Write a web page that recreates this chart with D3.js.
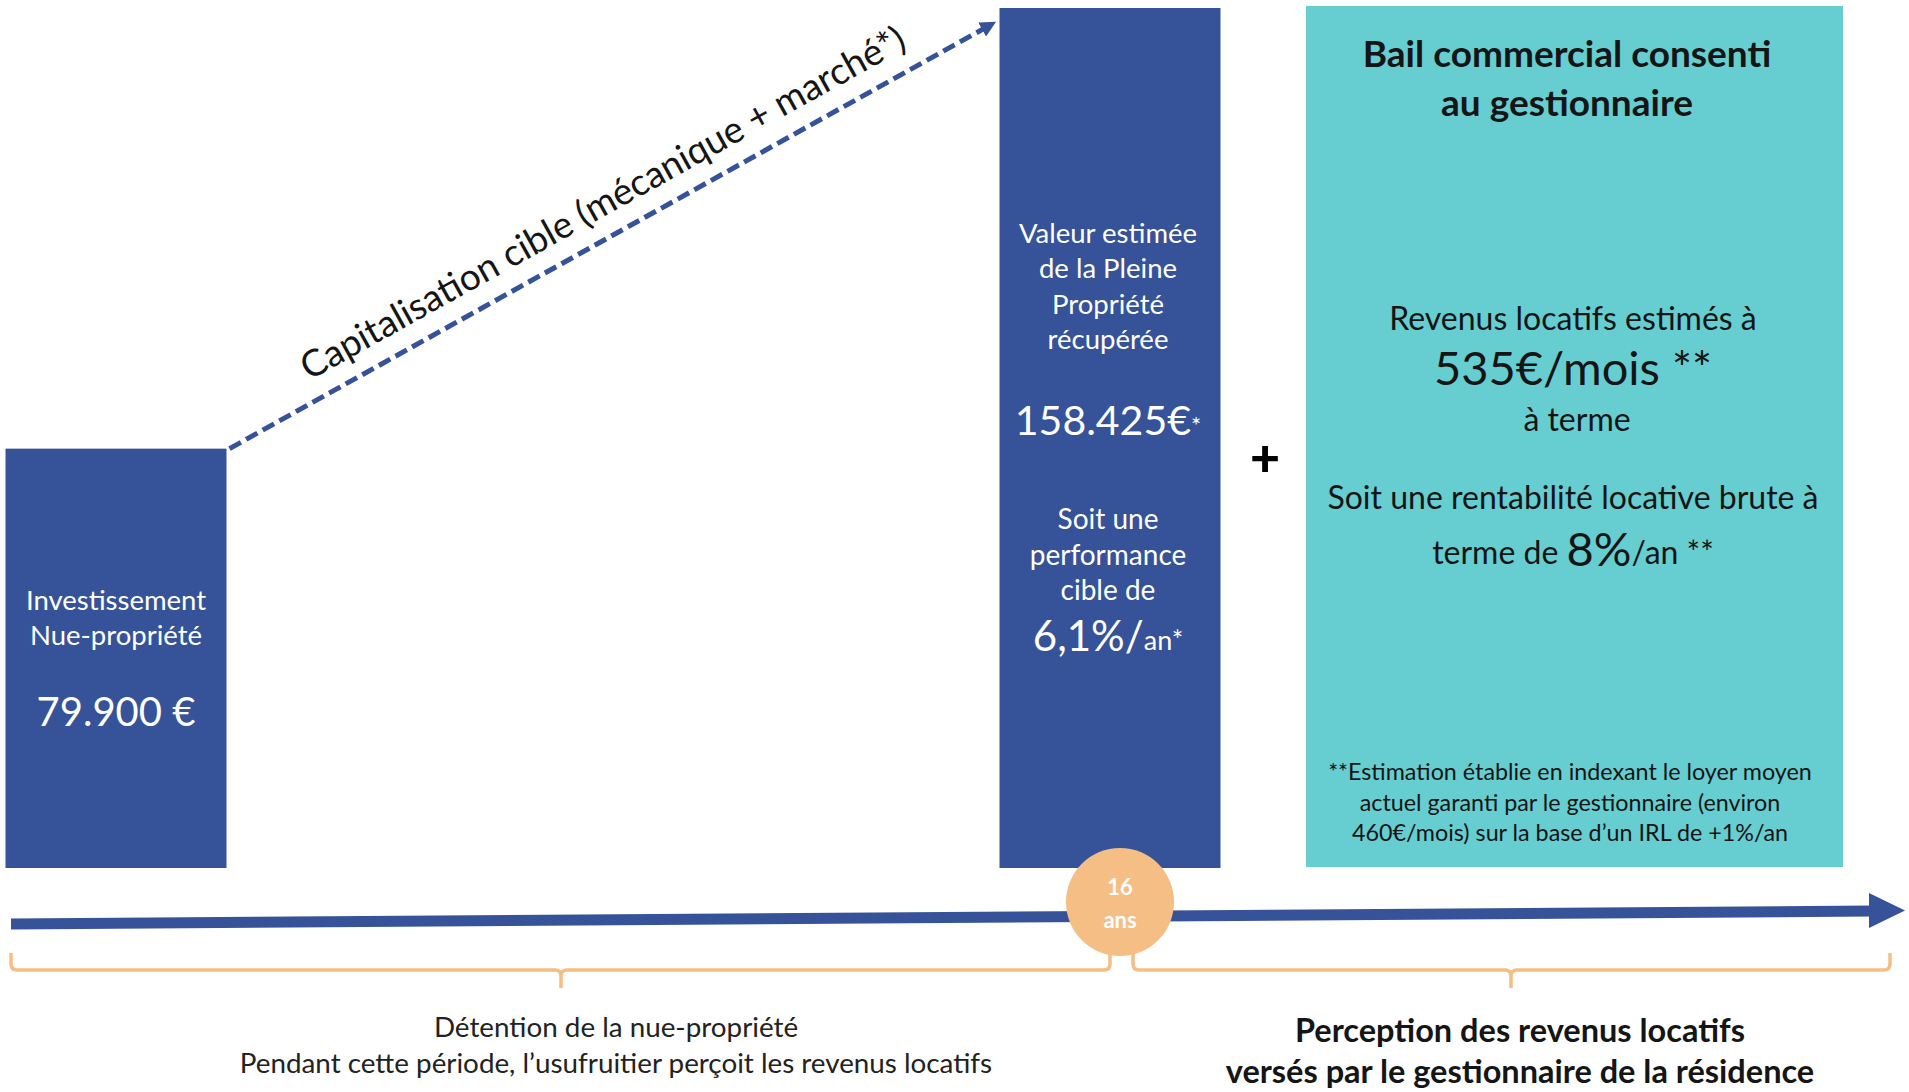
<!DOCTYPE html>
<html>
<head>
<meta charset="utf-8">
<script src="https://cdn.jsdelivr.net/npm/d3@7"></script>
<style>
  html, body { margin: 0; padding: 0; background: #ffffff; }
  svg { display: block; }
  text { font-family: Lato, "Open Sans", sans-serif; }
</style>
</head>
<body>
<svg id="chart" width="1909" height="1092"></svg>
<script>
// ---------- data ----------
const years = [0, 16];
const barValues = [79900, 158425];
const barLabelsLeft = ["Investissement", "Nue-propriété"];
const barValueLeft = "79.900 €";
const barLabelsMid = ["Valeur estimée", "de la Pleine", "Propriété", "récupérée"];
const barValueMid = "158.425€";
const perfLines = ["Soit une", "performance", "cible de"];
const perfValue = "6,1%/";
const perfUnit = "an*";
const arrowLabel = "Capitalisation cible (mécanique + marché*)";
const durationLabel = ["16", "ans"];
const leaseTitle = ["Bail commercial consenti", "au gestionnaire"];
const rentIntro = "Revenus locatifs estimés à";
const rentValue = "535€/mois **";
const rentTerm = "à terme";
const yieldIntro = "Soit une rentabilité locative brute à";
const yieldPre = "terme de ";
const yieldValue = "8%";
const yieldPost = "/an **";
const footnote = [
  "**Estimation établie en indexant le loyer moyen",
  "actuel garanti par le gestionnaire (environ",
  "460€/mois) sur la base d’un IRL de +1%/an"
];
const periodLeft = ["Détention de la nue-propriété", "Pendant cette période, l’usufruitier perçoit les revenus locatifs"];
const periodRight = ["Perception des revenus locatifs", "versés par le gestionnaire de la résidence"];

// ---------- style ----------
const BLUE = "#36539A";
const TEAL = "#66CDD0";
const ORANGE = "#F5BE84";
const DARK = "#151515";

const svg = d3.select("#chart");

// scales
const x = d3.scaleLinear().domain([0, 16]).range([116, 1110]);
const y = d3.scaleLinear().domain([0, 158425]).range([897, 8]);
const barBottom = 868;
const barWidth = 221;

// ---------- bars ----------
svg.selectAll("rect.bar")
  .data(barValues)
  .join("rect")
  .attr("class", "bar")
  .attr("x", (d, i) => x(years[i]) - barWidth / 2)
  .attr("y", d => y(d))
  .attr("width", barWidth)
  .attr("height", d => barBottom - y(d))
  .attr("fill", BLUE);

// teal box
svg.append("rect")
  .attr("x", 1306).attr("y", 6)
  .attr("width", 537).attr("height", 861)
  .attr("fill", TEAL);

// ---------- dashed arrow ----------
const p0 = [x(years[0]) + barWidth / 2 + 3, y(barValues[0])];
const p1 = [x(years[1]) - barWidth / 2 - 2, 21];
const ang = Math.atan2(p1[1] - p0[1], p1[0] - p0[0]);
const defs = svg.append("defs");
defs.append("marker")
  .attr("id", "dashHead")
  .attr("viewBox", "0 0 10 10")
  .attr("refX", 6).attr("refY", 5)
  .attr("markerWidth", 3.2).attr("markerHeight", 3.2)
  .attr("orient", "auto")
  .append("path").attr("d", "M0,0 L10,5 L0,10 Z").attr("fill", BLUE);

svg.append("line")
  .attr("x1", p0[0]).attr("y1", p0[1])
  .attr("x2", p1[0] - 8 * Math.cos(ang)).attr("y2", p1[1] - 8 * Math.sin(ang))
  .attr("stroke", BLUE)
  .attr("stroke-width", 5)
  .attr("stroke-dasharray", "13,6")
  .attr("marker-end", "url(#dashHead)");

const mid = [(p0[0] + p1[0]) / 2, (p0[1] + p1[1]) / 2];
svg.append("text")
  .attr("transform", `translate(${mid[0]},${mid[1]}) rotate(${ang * 180 / Math.PI})`)
  .attr("x", 6).attr("y", -35)
  .attr("text-anchor", "middle")
  .attr("dominant-baseline", "central")
  .attr("font-size", 37)
  .attr("fill", DARK)
  .text(arrowLabel);

// ---------- timeline ----------
const tl0 = [11, 924], tl1 = [1872, 911];
svg.append("line")
  .attr("x1", tl0[0]).attr("y1", tl0[1])
  .attr("x2", tl1[0]).attr("y2", tl1[1])
  .attr("stroke", BLUE).attr("stroke-width", 11);
svg.append("path")
  .attr("d", `M1869,893 L1905,910.5 L1869,928 Z`)
  .attr("fill", BLUE);

// ---------- braces ----------
function brace(x0, x1, tip) {
  const top = 953, h = 970, bot = 988, r = 6;
  return `M${x0},${top} L${x0},${h - r} Q${x0},${h} ${x0 + r},${h} L${tip - r},${h} Q${tip},${h} ${tip},${h + r} L${tip},${bot}` +
         ` M${tip},${h + r} Q${tip},${h} ${tip + r},${h} L${x1 - r},${h} Q${x1},${h} ${x1},${h - r} L${x1},${top}`;
}
svg.append("path").attr("d", brace(11, 1110, 561))
  .attr("fill", "none").attr("stroke", ORANGE).attr("stroke-width", 3.5);
svg.append("path").attr("d", brace(1133, 1890, 1511))
  .attr("fill", "none").attr("stroke", ORANGE).attr("stroke-width", 3.5);

// ---------- circle ----------
const cx = x(years[1]) + 10, cy = 902;
svg.append("circle").attr("cx", cx).attr("cy", cy).attr("r", 54).attr("fill", ORANGE);
svg.selectAll("text.dur").data(durationLabel).join("text")
  .attr("class", "dur")
  .attr("x", cx).attr("y", (d, i) => 886 + i * 33)
  .attr("text-anchor", "middle").attr("dominant-baseline", "central")
  .attr("font-size", 22).attr("font-weight", 700).attr("fill", "#ffffff")
  .text(d => d);

// ---------- left bar text ----------
const lx = x(years[0]);
svg.selectAll("text.lbl").data(barLabelsLeft).join("text")
  .attr("class", "lbl")
  .attr("x", lx).attr("y", (d, i) => 599 + i * 35)
  .attr("text-anchor", "middle").attr("dominant-baseline", "central")
  .attr("font-size", 27.5).attr("fill", "#ffffff")
  .text(d => d);
svg.append("text")
  .attr("x", lx).attr("y", 711)
  .attr("text-anchor", "middle").attr("dominant-baseline", "central")
  .attr("font-size", 40).attr("fill", "#ffffff")
  .text(barValueLeft);

// ---------- middle bar text ----------
const mx = x(years[1]) - 2;
svg.selectAll("text.mlbl").data(barLabelsMid).join("text")
  .attr("class", "mlbl")
  .attr("x", mx).attr("y", (d, i) => 232 + i * 35.5)
  .attr("text-anchor", "middle").attr("dominant-baseline", "central")
  .attr("font-size", 27.5).attr("fill", "#ffffff")
  .text(d => d);
const mv = svg.append("text")
  .attr("x", mx).attr("y", 419)
  .attr("text-anchor", "middle").attr("dominant-baseline", "central")
  .attr("fill", "#ffffff");
mv.append("tspan").attr("font-size", 41).text(barValueMid);
mv.append("tspan").attr("font-size", 24).attr("dy", 5).text("*");

svg.selectAll("text.perf").data(perfLines).join("text")
  .attr("class", "perf")
  .attr("x", mx).attr("y", (d, i) => 518 + i * 35.5)
  .attr("text-anchor", "middle").attr("dominant-baseline", "central")
  .attr("font-size", 28).attr("fill", "#ffffff")
  .text(d => d);
const pv = svg.append("text")
  .attr("x", mx).attr("y", 635)
  .attr("text-anchor", "middle").attr("dominant-baseline", "central")
  .attr("fill", "#ffffff");
pv.append("tspan").attr("font-size", 42).text(perfValue);
pv.append("tspan").attr("font-size", 27).attr("dy", 4).text(perfUnit);

// plus sign
svg.append("text")
  .attr("x", 1265).attr("y", 456)
  .attr("text-anchor", "middle").attr("dominant-baseline", "central")
  .attr("font-size", 52).attr("font-weight", 900).attr("fill", "#000")
  .text("+");

// ---------- teal box text ----------
const tx = 1573;
svg.selectAll("text.title").data(leaseTitle).join("text")
  .attr("class", "title")
  .attr("x", tx - 6).attr("y", (d, i) => 52 + i * 49)
  .attr("text-anchor", "middle").attr("dominant-baseline", "central")
  .attr("font-size", 37).attr("font-weight", 700).attr("fill", DARK)
  .text(d => d);

svg.append("text").attr("x", tx).attr("y", 317)
  .attr("text-anchor", "middle").attr("dominant-baseline", "central")
  .attr("font-size", 32).attr("fill", DARK).text(rentIntro);
svg.append("text").attr("x", tx).attr("y", 367)
  .attr("text-anchor", "middle").attr("dominant-baseline", "central")
  .attr("font-size", 47).attr("fill", DARK).text(rentValue);
svg.append("text").attr("x", tx + 4).attr("y", 418)
  .attr("text-anchor", "middle").attr("dominant-baseline", "central")
  .attr("font-size", 32).attr("fill", DARK).text(rentTerm);
svg.append("text").attr("x", tx).attr("y", 496)
  .attr("text-anchor", "middle").attr("dominant-baseline", "central")
  .attr("font-size", 32).attr("fill", DARK).text(yieldIntro);
const yt = svg.append("text").attr("x", tx).attr("y", 551)
  .attr("text-anchor", "middle").attr("dominant-baseline", "central")
  .attr("fill", DARK);
yt.append("tspan").attr("font-size", 32).text(yieldPre);
yt.append("tspan").attr("font-size", 47).attr("dy", -3).text(yieldValue);
yt.append("tspan").attr("font-size", 32).attr("dy", 3).text(yieldPost);

svg.selectAll("text.foot").data(footnote).join("text")
  .attr("class", "foot")
  .attr("x", tx - 3).attr("y", (d, i) => 771 + i * 30.5)
  .attr("text-anchor", "middle").attr("dominant-baseline", "central")
  .attr("font-size", 23.3).attr("fill", DARK)
  .text(d => d);

// ---------- bottom period labels ----------
svg.selectAll("text.pl").data(periodLeft).join("text")
  .attr("class", "pl")
  .attr("x", 616).attr("y", (d, i) => 1026 + i * 36)
  .attr("text-anchor", "middle").attr("dominant-baseline", "central")
  .attr("font-size", 27.8).attr("fill", "#222")
  .text(d => d);
svg.selectAll("text.pr").data(periodRight).join("text")
  .attr("class", "pr")
  .attr("x", 1520).attr("y", (d, i) => 1029 + i * 41)
  .attr("text-anchor", "middle").attr("dominant-baseline", "central")
  .attr("font-size", 32.5).attr("font-weight", 700).attr("fill", DARK)
  .text(d => d);
</script>
</body>
</html>
